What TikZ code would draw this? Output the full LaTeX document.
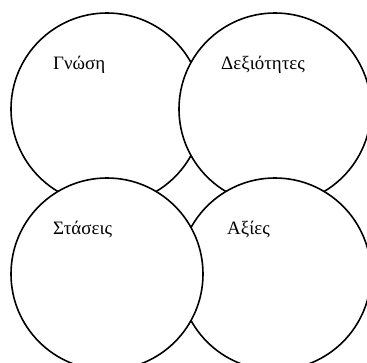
\documentclass[tikz,border=0pt]{standalone}
\usepackage{fontspec}
\setmainfont{Liberation Serif}
\begin{document}
\begin{tikzpicture}[x=1bp,y=-1bp,
  ring/.style={circle,draw=black,fill=white,line width=1.6bp,inner sep=0pt,minimum size=192bp},
  label/.style={anchor=base west,inner sep=0pt,font=\fontsize{19}{22}\selectfont}]
\useasboundingbox (0,0) rectangle (367,363);
\clip (0,0) rectangle (367,363);
\node[ring] (tl) at (107,109) {};
\node[ring] (tr) at (275,109) {};
\node[ring] (br) at (275,274) {};
\node[ring] (bl) at (107,274) {};
\node[label] (t1) at (53,69) {Γνώση};
\node[label] (t2) at (221,69) {Δεξιότητες};
\node[label] (t3) at (53,234) {Στάσεις};
\node[label] (t4) at (227,234) {Αξίες};
\end{tikzpicture}
\end{document}
